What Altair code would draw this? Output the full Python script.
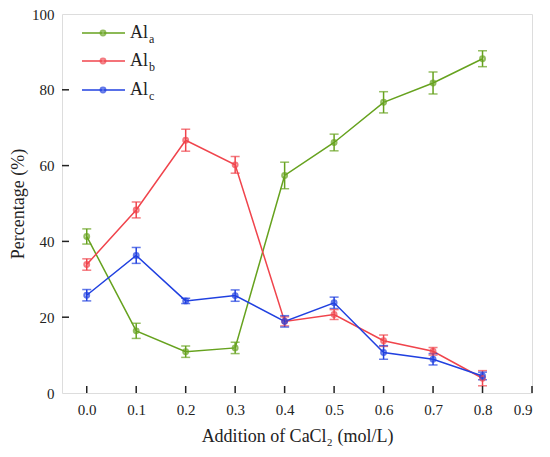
import altair as alt
import pandas as pd

# ---- data ----
x_vals = [0.0, 0.1, 0.2, 0.3, 0.4, 0.5, 0.6, 0.7, 0.8]
al_a = [41.3, 16.4, 10.9, 11.9, 57.4, 66.1, 76.7, 81.8, 88.2]
al_a_err = [2.0, 2.0, 1.5, 1.5, 3.5, 2.2, 2.8, 2.9, 2.1]
al_b = [33.9, 48.3, 66.7, 60.2, 18.9, 20.7, 13.8, 11.0, 3.9]
al_b_err = [1.5, 2.1, 2.9, 2.2, 1.2, 1.3, 1.5, 1.0, 2.0]
al_c = [25.8, 36.3, 24.3, 25.7, 18.9, 23.8, 10.7, 8.9, 4.5]
al_c_err = [1.5, 2.1, 0.7, 1.5, 1.5, 1.5, 1.8, 1.5, 1.0]

series_names = ["Al_a", "Al_b", "Al_c"]
series_subs = ["a", "b", "c"]
series_colors = ["#66A21E", "#F0444C", "#2040E0"]

x_ticks = [0.0, 0.1, 0.2, 0.3, 0.4, 0.5, 0.6, 0.7, 0.8, 0.9]
y_ticks = [0, 20, 40, 60, 80, 100]

FONT = "Liberation Serif"
W, H = 470, 379

rows = []
for name, vals, errs in zip(series_names, [al_a, al_b, al_c], [al_a_err, al_b_err, al_c_err]):
    for xv, v, e in zip(x_vals, vals, errs):
        rows.append({"x": xv, "y": v, "lo": v - e, "hi": v + e, "s": name})
df = pd.DataFrame(rows)

xscale = alt.Scale(domain=[-0.05, 0.9], nice=False, zero=False)
yscale = alt.Scale(domain=[0, 100], nice=False)
cscale = alt.Scale(domain=series_names, range=series_colors)

xaxis = alt.Axis(values=x_ticks, format=".1f", tickSize=0, domain=False, grid=False,
                 labelFont=FONT, labelFontSize=15, labelColor="#222", labelPadding=9,
                 title="Addition of CaCl\u2082 (mol/L)", titleFont=FONT, titleFontSize=18,
                 titleFontWeight="normal", titleColor="#222", titlePadding=10)
yaxis = alt.Axis(values=y_ticks, tickSize=0, domain=False, grid=False,
                 labelFont=FONT, labelFontSize=15, labelColor="#222", labelPadding=8,
                 title="Percentage (%)", titleFont=FONT, titleFontSize=18,
                 titleFontWeight="normal", titleColor="#222", titlePadding=4)

base = alt.Chart(df)
X = alt.X("x:Q", scale=xscale, axis=xaxis)
Y = alt.Y("y:Q", scale=yscale, axis=yaxis)
C = alt.Color("s:N", scale=cscale, legend=None)

lines = base.mark_line(strokeWidth=1.5).encode(x=X, y=Y, color=C, detail="s:N")
err = base.mark_rule(strokeWidth=1.5).encode(x="x:Q", y="lo:Q", y2="hi:Q", color=C)
cap_lo = base.mark_tick(orient="horizontal", size=9, thickness=1.5).encode(x="x:Q", y="lo:Q", color=C)
cap_hi = base.mark_tick(orient="horizontal", size=9, thickness=1.5).encode(x="x:Q", y="hi:Q", color=C)
pts = base.mark_point(filled=False, size=22, strokeWidth=2.2, shape="circle").encode(x="x:Q", y="y:Q", color=C)

xt = alt.Chart(pd.DataFrame({"t": x_ticks})).mark_rule(color="#222", strokeWidth=1.5).encode(
    x="t:Q", y=alt.value(H), y2=alt.value(H - 7))
yt = alt.Chart(pd.DataFrame({"t": y_ticks[1:-1]})).mark_rule(color="#222", strokeWidth=1.5).encode(
    y="t:Q", x=alt.value(0), x2=alt.value(7))

# manual legend (subscripted labels)
leg_layers = []
row_y = [19, 47, 76]
for name, sub, col, ry in zip(series_names, series_subs, series_colors, row_y):
    one = pd.DataFrame({"s": [name]})
    leg_layers.append(alt.Chart(one).mark_rule(color=col, strokeWidth=1.5).encode(
        x=alt.value(20), x2=alt.value(63), y=alt.value(ry)))
    leg_layers.append(alt.Chart(one).mark_point(filled=False, color=col, size=22, strokeWidth=2.2).encode(
        x=alt.value(41), y=alt.value(ry)))
    leg_layers.append(alt.Chart(one).mark_text(text="Al", font=FONT, fontSize=18, color="#222",
                                               align="left", baseline="middle").encode(
        x=alt.value(68), y=alt.value(ry)))
    leg_layers.append(alt.Chart(one).mark_text(text=sub, font=FONT, fontSize=12, color="#222",
                                               align="left", baseline="middle").encode(
        x=alt.value(87), y=alt.value(ry + 6)))

chart = alt.layer(lines, err, cap_lo, cap_hi, pts, xt, yt, *leg_layers).properties(
    width=W, height=H,
    autosize=alt.AutoSizeParams(type="none"),
    padding={"left": 54, "top": 6, "right": 10, "bottom": 56},
).configure_view(stroke="#222", strokeWidth=1.5).configure(background="white")

chart.save("out.html", embed_options={"renderer": "svg", "actions": False})
